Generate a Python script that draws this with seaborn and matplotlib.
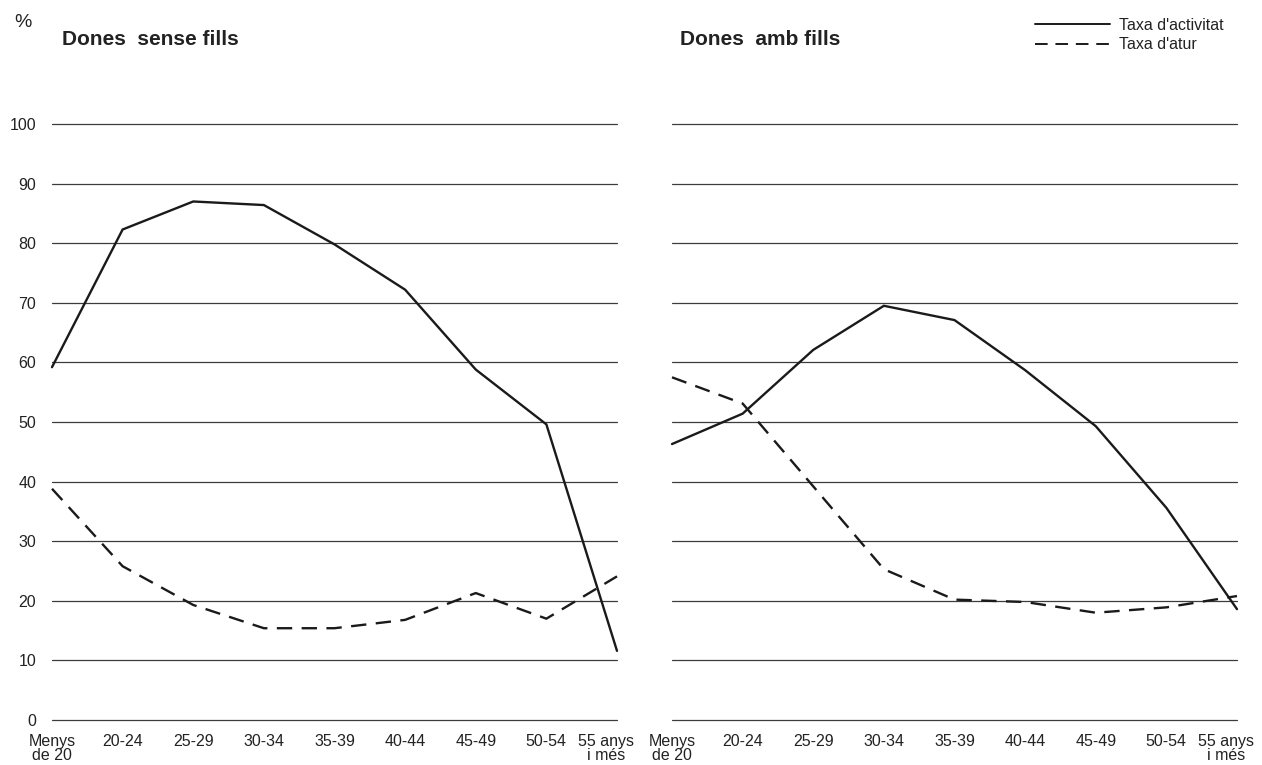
import matplotlib
matplotlib.use("Agg")
import matplotlib.pyplot as plt
import matplotlib.transforms as mtrans
import numpy as np
import pandas as pd
import seaborn as sns

# Age groups (x axis)
edats = ['Menys\nde 20', '20-24', '25-29', '30-34', '35-39',
         '40-44', '45-49', '50-54', '55 anys\ni més']

# Values (%)
sense_activitat = [59.2, 82.3, 87.0, 86.4, 79.8, 72.2, 58.8, 49.6, 11.6]
sense_atur = [38.8, 25.8, 19.3, 15.4, 15.4, 16.8, 21.3, 17.0, 24.1]
amb_activitat = [46.3, 51.4, 62.1, 69.5, 67.1, 58.7, 49.3, 35.6, 18.6]
amb_atur = [57.5, 53.1, 39.2, 25.3, 20.2, 19.8, 18.0, 18.9, 20.8]

series_labels = ["Taxa d'activitat", "Taxa d'atur"]
y_ticks = list(range(0, 101, 10))

sns.set_theme(style='white')
plt.rcParams['font.family'] = ['Liberation Sans', 'DejaVu Sans']

TXT = '#222222'
GRID = '#3c3c3c'
W, H = 1262, 765

fig = plt.figure(figsize=(W / 100, H / 100), dpi=100)
ax1 = fig.add_axes([52 / W, 45 / H, 565 / W, 596 / H])
ax2 = fig.add_axes([672 / W, 45 / H, 565 / W, 596 / H])

x = np.arange(len(edats))
panels = [(ax1, sense_activitat, sense_atur), (ax2, amb_activitat, amb_atur)]

for ax, act, atur in panels:
    df = pd.DataFrame({'x': x, 'act': act, 'atur': atur})
    sns.lineplot(data=df, x='x', y='act', ax=ax, color='#1a1a1a', lw=1.7,
                 label=series_labels[0])
    sns.lineplot(data=df, x='x', y='atur', ax=ax, color='#1a1a1a', lw=1.7,
                 dashes=False, label=series_labels[1])
    ax.lines[1].set_dashes((6.5, 4))
    for ln in ax.lines:
        ln.set_clip_on(False)
        ln.set_solid_joinstyle('miter')
    ax.set_xlim(0, len(edats) - 1)
    ax.set_ylim(0, 100)
    ax.set_yticks(y_ticks)
    ax.set_xticks(x)
    ax.set_xticklabels(edats, fontsize=11.5, color=TXT, linespacing=0.95)
    ax.yaxis.grid(True, color=GRID, lw=0.9)
    ax.xaxis.grid(False)
    for g in ax.get_ygridlines():
        g.set_clip_on(False)
    ax.set_axisbelow(True)
    for s in ax.spines.values():
        s.set_visible(False)
    ax.tick_params(length=0, axis='x', pad=10)
    ax.tick_params(length=0, axis='y', pad=11.5, labelsize=11.5, labelcolor=TXT)
    ax.set_xlabel('')
    ax.set_ylabel('')
    ax.get_legend().remove()
    # last label sits a bit left of its point
    last = ax.get_xticklabels()[-1]
    last.set_transform(last.get_transform() +
                       mtrans.ScaledTranslation(-0.11, 0, fig.dpi_scale_trans))

ax2.set_yticklabels([])

fig.text(62 / W, 1 - 45 / H, 'Dones  sense fills', fontsize=15,
         fontweight='bold', color=TXT, va='baseline')
fig.text(680 / W, 1 - 45 / H, 'Dones  amb fills', fontsize=15,
         fontweight='bold', color=TXT, va='baseline')
fig.text(14 / W, 1 - 27 / H, '%', fontsize=14, color=TXT, va='baseline')

handles = ax1.lines[:2]
leg = fig.legend(handles, series_labels, loc='upper right',
                 bbox_to_anchor=(1224 / W, 1 - 18 / H), frameon=False,
                 fontsize=11.5, borderpad=0, borderaxespad=0,
                 handlelength=4.7, handletextpad=0.6, labelspacing=0.28)
for t in leg.get_texts():
    t.set_color(TXT)
for h in leg.get_lines():
    h.set_linewidth(1.4)

fig.savefig('out.png', dpi=100, facecolor='white')
